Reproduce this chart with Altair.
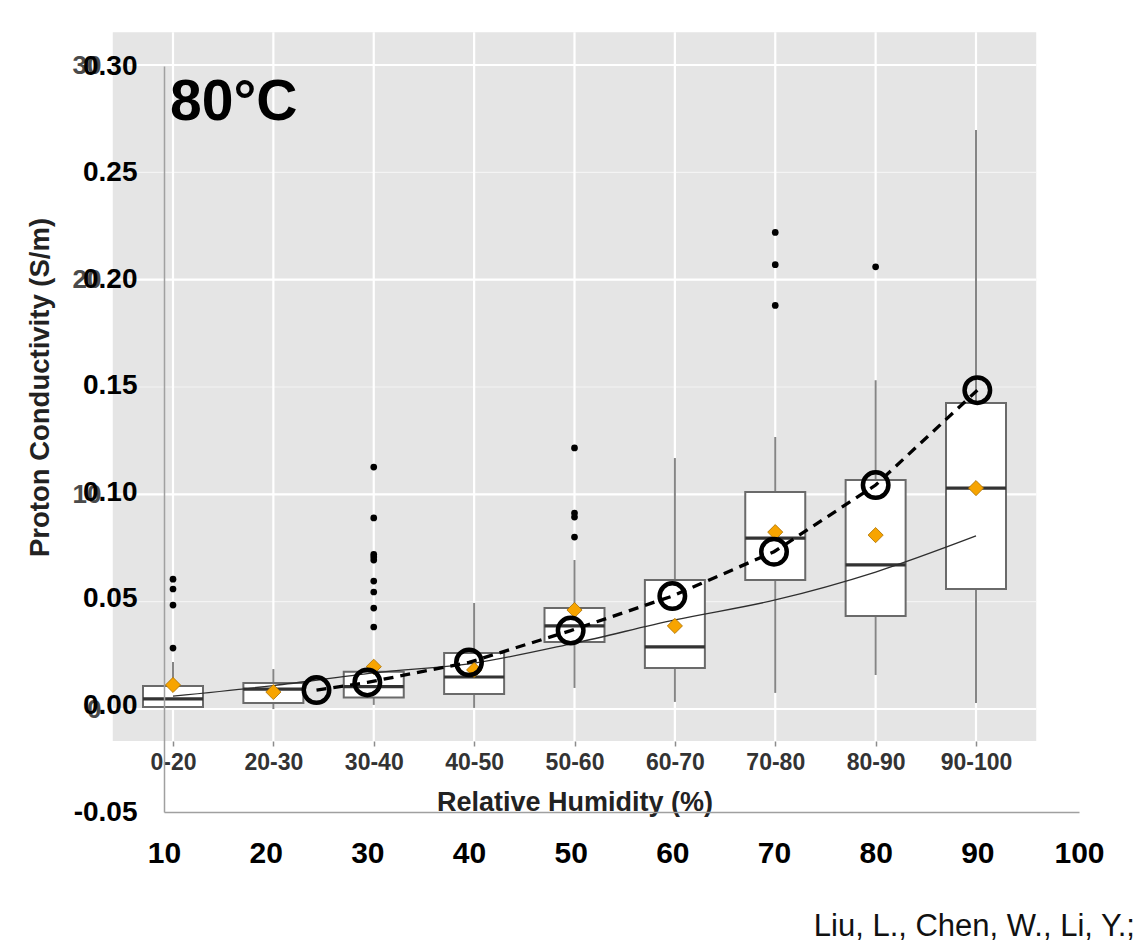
import altair as alt
import pandas as pd

FONT = "Liberation Sans"

# ---------------- boxplot panel (values in the panel's own units, 0-30) ----------------
categories = ["0-20", "20-30", "30-40", "40-50", "50-60", "60-70", "70-80", "80-90", "90-100"]
whisker_low = [0.05, 0.00, 0.19, 0.05, 0.98, 0.33, 0.75, 1.58, 0.28]
q1 = [0.09, 0.28, 0.53, 0.70, 3.12, 1.91, 6.01, 4.33, 5.59]
median = [0.47, 0.93, 1.04, 1.49, 3.87, 2.89, 7.96, 6.71, 10.29]
q3 = [1.07, 1.21, 1.74, 2.61, 4.70, 6.01, 10.11, 10.67, 14.25]
whisker_high = [2.19, 1.86, 2.20, 4.94, 6.94, 11.69, 12.67, 15.32, 26.97]
mean_value = [1.12, 0.79, 1.97, 1.82, 4.61, 3.87, 8.24, 8.10, 10.29]
fit_value = [0.60, 1.09, 1.68, 2.14, 3.07, 4.15, 5.08, 6.38, 8.06]

outlier_group = (["0-20"] * 4 + ["30-40"] * 9 + ["50-60"] * 4 + ["70-80"] * 3 + ["80-90"])
outlier_value = [6.05, 5.59, 4.84, 2.84,
                 11.27, 8.90, 7.20, 7.08, 6.94, 5.96, 5.45, 4.70, 3.82,
                 12.16, 9.13, 8.94, 8.01,
                 22.2, 20.7, 18.8,
                 20.6]

panel_x = [0.4, 9.6]
panel_y = [-1.49, 31.53]
grid_major = [0, 10, 20, 30]
grid_minor = [5, 15, 25]

# ---------------- overlay (S/m vs RH %) ----------------
rh = [25, 30, 40, 50, 60, 70, 80, 90]
conductivity = [0.0072, 0.0108, 0.0202, 0.0351, 0.0513, 0.0721, 0.1034, 0.1479]
x_ticks = [10, 20, 30, 40, 50, 60, 70, 80, 90, 100]
y_ticks = [-0.05, 0.0, 0.05, 0.10, 0.15, 0.20, 0.25, 0.30]

label_text = ["80°C"]
label_x = [10.6]
label_y = [0.2747]
credit_text = ["Liu, L., Chen, W., Li, Y.;"]
credit_x = [105.5]
credit_y = [-0.1080]

# ---------------- tables ----------------
pos = list(range(1, len(categories) + 1))
box_df = pd.DataFrame({"group": categories, "pos": pos, "lo": whisker_low, "q1": q1,
                       "med": median, "q3": q3, "hi": whisker_high,
                       "mean": mean_value, "fit": fit_value})
out_df = pd.DataFrame({"pos": [categories.index(g) + 1 for g in outlier_group],
                       "v": outlier_value})
panel_df = pd.DataFrame({"x0": [panel_x[0]], "x1": [panel_x[1]],
                         "y0": [panel_y[0]], "y1": [panel_y[1]]})
vgrid_df = pd.DataFrame({"pos": pos, "y0": panel_y[0], "y1": panel_y[1]})
hmaj_df = pd.DataFrame({"v": grid_major, "x0": panel_x[0], "x1": panel_x[1]})
hmin_df = pd.DataFrame({"v": grid_minor, "x0": panel_x[0], "x1": panel_x[1]})
over_df = pd.DataFrame({"rh": rh, "c": conductivity})
lab_df = pd.DataFrame({"t": label_text, "x": label_x, "y": label_y})
cred_df = pd.DataFrame({"t": credit_text, "x": credit_x, "y": credit_y})

# ---------------- scales ----------------
xb = alt.Scale(domain=[1, 9], range=[9, 812], nice=False, zero=False, padding=0)
yb = alt.Scale(domain=[0, 30], range=[643, -1], nice=False, zero=False, padding=0)
xo = alt.Scale(domain=[10, 100], nice=False, zero=False, padding=0)
yo = alt.Scale(domain=[-0.05, 0.30], nice=False, zero=False, padding=0)

cat_expr = "[" + ",".join("'%s'" % c for c in categories) + "][datum.value - 1]"

xb_axis = alt.Axis(orient="bottom", offset=-71, values=pos, labelExpr=cat_expr,
                   labelFontSize=23, labelFontWeight="bold", labelColor="#333333",
                   labelPadding=5, ticks=True, tickSize=5, tickColor="#8C8C8C",
                   tickWidth=1.5, domain=False, grid=False, labelFlush=False,
                   labelOverlap=False, title="Relative Humidity (%)", titleFontSize=27,
                   titleFontWeight="bold", titleColor="#222222", titlePadding=15)
yb_axis = alt.Axis(orient="left", offset=52, values=grid_major, format="d",
                   labelFontSize=26, labelFontWeight="bold", labelColor="#4A4A4A",
                   labelPadding=11, ticks=False, tickSize=0, domain=False, grid=False,
                   labelFlush=False, labelOverlap=False,
                   title="Proton Conductivity (S/m)",
                   titleFontSize=27.5, titleFontWeight="bold", titleColor="#222222",
                   titlePadding=18)
xo_axis = alt.Axis(orient="bottom", values=x_ticks, format="d", labelFontSize=30,
                   labelFontWeight="bold", labelColor="black", labelPadding=26,
                   ticks=False, tickSize=0, domainColor="#A0A0A0", domainWidth=1.5,
                   grid=False, labelFlush=False, labelOverlap=False, title="", zindex=1)
yo_axis = alt.Axis(orient="left", values=y_ticks,
                   labelExpr="datum.value < 0 ? '-' + format(-datum.value, '.2f') : format(datum.value, '.2f')",
                   labelFontSize=28, labelFontWeight="bold", labelColor="black",
                   labelPadding=27, ticks=False, tickSize=0, domainColor="#A0A0A0",
                   domainWidth=1.5, grid=False, labelFlush=False, labelOverlap=False,
                   title="", zindex=1)

# ---------------- boxplot layers ----------------
panel = alt.Chart(panel_df).mark_rect(color="#E5E5E5").encode(
    x=alt.X("x0:Q", scale=xb, axis=xb_axis), x2="x1:Q",
    y=alt.Y("y0:Q", scale=yb, axis=yb_axis), y2="y1:Q")
hmin = alt.Chart(hmin_df).mark_rule(color="#F4F4F4", strokeWidth=1.2).encode(
    y=alt.Y("v:Q", scale=yb, axis=None),
    x=alt.X("x0:Q", scale=xb, axis=None), x2="x1:Q")
hmaj = alt.Chart(hmaj_df).mark_rule(color="white", strokeWidth=2.2).encode(
    y=alt.Y("v:Q", scale=yb, axis=None),
    x=alt.X("x0:Q", scale=xb, axis=None), x2="x1:Q")
vgrid = alt.Chart(vgrid_df).mark_rule(color="white", strokeWidth=2.2).encode(
    x=alt.X("pos:Q", scale=xb, axis=None),
    y=alt.Y("y0:Q", scale=yb, axis=None), y2="y1:Q")
whisk = alt.Chart(box_df).mark_rule(color="#858585", strokeWidth=2).encode(
    x=alt.X("pos:Q", scale=xb, axis=None),
    y=alt.Y("lo:Q", scale=yb, axis=None), y2="hi:Q")
boxes = alt.Chart(box_df).mark_bar(size=60, fill="white", stroke="#6A6A6A",
                                   strokeWidth=2).encode(
    x=alt.X("pos:Q", scale=xb, axis=None),
    y=alt.Y("q1:Q", scale=yb, axis=None), y2="q3:Q")
meds = alt.Chart(box_df).mark_tick(orient="horizontal", size=60, thickness=3.2,
                                   color="#333333", opacity=1).encode(
    x=alt.X("pos:Q", scale=xb, axis=None),
    y=alt.Y("med:Q", scale=yb, axis=None))
fit = alt.Chart(box_df).mark_line(color="#2E2E2E", strokeWidth=1.3,
                                  interpolate="monotone").encode(
    x=alt.X("pos:Q", scale=xb, axis=None),
    y=alt.Y("fit:Q", scale=yb, axis=None))
means = alt.Chart(box_df).mark_point(shape="diamond", filled=True, fill="#F7A400",
                                     stroke="#A86E00", strokeWidth=0.8, size=230,
                                     opacity=1).encode(
    x=alt.X("pos:Q", scale=xb, axis=None),
    y=alt.Y("mean:Q", scale=yb, axis=None))
outl = alt.Chart(out_df).mark_circle(color="black", size=45, opacity=1).encode(
    x=alt.X("pos:Q", scale=xb, axis=None),
    y=alt.Y("v:Q", scale=yb, axis=None))

# ---------------- overlay layers ----------------
dline = alt.Chart(over_df).mark_line(color="black", strokeWidth=3.3,
                                     strokeDash=[10, 7]).encode(
    x=alt.X("rh:Q", scale=xo, axis=xo_axis),
    y=alt.Y("c:Q", scale=yo, axis=yo_axis))
rings = alt.Chart(over_df).mark_point(shape="circle", filled=False, color="black",
                                      size=650, strokeWidth=4.5, opacity=1).encode(
    x=alt.X("rh:Q", scale=xo, axis=None),
    y=alt.Y("c:Q", scale=yo, axis=None))
temp_label = alt.Chart(lab_df).mark_text(fontSize=57, fontWeight="bold", align="left",
                                         baseline="alphabetic", color="black").encode(
    x=alt.X("x:Q", scale=xo, axis=None),
    y=alt.Y("y:Q", scale=yo, axis=None), text="t:N")
credit = alt.Chart(cred_df).mark_text(fontSize=31, align="right", baseline="alphabetic",
                                      color="#111111").encode(
    x=alt.X("x:Q", scale=xo, axis=None),
    y=alt.Y("y:Q", scale=yo, axis=None), text="t:N")

chart = alt.layer(
    panel, hmin, hmaj, vgrid, whisk, boxes, meds, fit, means, outl,
    dline, rings, temp_label, credit
).resolve_scale(
    x="independent", y="independent"
).properties(
    width=915, height=746,
    autosize=alt.AutoSizeParams(type="none"),
    padding={"left": 164, "top": 66, "right": 59, "bottom": 132},
).configure(font=FONT, background="white").configure_view(stroke=None)

chart.save("out.html", embed_options={"renderer": "svg", "actions": False})
